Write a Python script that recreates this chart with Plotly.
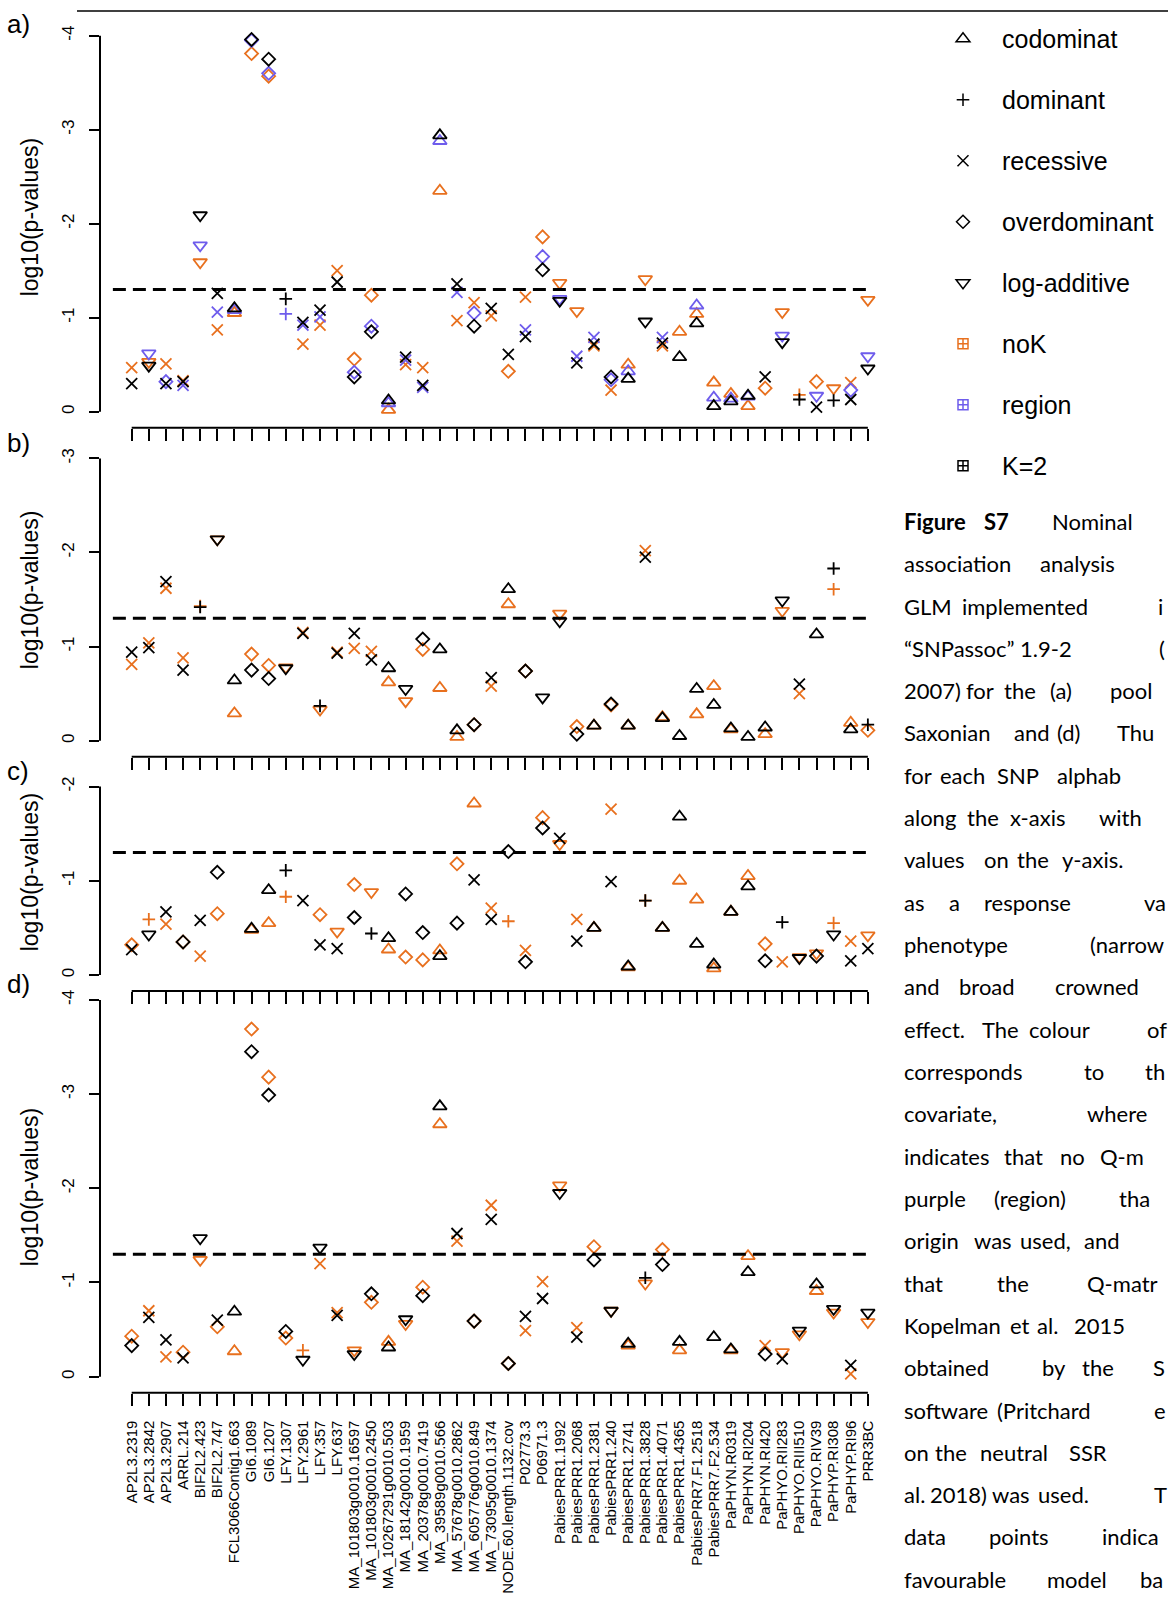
import numpy as np
import plotly.graph_objects as go

# ---------------- data ----------------
SNPS = ["AP2L3.2319", "AP2L3.2842", "AP2L3.2907", "ARRL.214", "BIF2L2.423", "BIF2L2.747",
        "FCL3066Contig1.663", "GI6.1089", "GI6.1207", "LFY.1307", "LFY.2961", "LFY.357",
        "LFY.637", "MA_101803g0010.16597", "MA_101803g0010.2450", "MA_10267291g0010.503",
        "MA_18142g0010.1959", "MA_20378g0010.7419", "MA_39589g0010.566", "MA_57678g0010.2862",
        "MA_605776g0010.849", "MA_73095g0010.1374", "NODE.60.length.1132.cov", "P02773.3",
        "P06971.3", "PabiesPRR1.1992", "PabiesPRR1.2068", "PabiesPRR1.2381", "PabiesPRR1.240",
        "PabiesPRR1.2741", "PabiesPRR1.3828", "PabiesPRR1.4071", "PabiesPRR1.4365",
        "PabiesPRR7.F1.2518", "PabiesPRR7.F2.534", "PaPHYN.R0319", "PaPHYN.RI204",
        "PaPHYN.RI420", "PaPHYO.RII283", "PaPHYO.RIII510", "PaPHYO.RIV39", "PaPHYP.RI308",
        "PaPHYP.RI96", "PRR3BC"]

MODELS = ["co", "dom", "rec", "over", "log"]
MODEL_NAMES = ["codominat", "dominant", "recessive", "overdominant", "log-additive"]
COVARIATES = ["noK", "reg", "K2"]
COVARIATE_NAMES = ["noK", "region", "K=2"]
SIG_P = 0.05

# (SNP number 1-based, model, covariate, log10 p-value)
PANEL_A = [
    (1, "rec", "noK", -0.47), (1, "rec", "K2", -0.30),
    (2, "log", "reg", -0.62), (2, "log", "noK", -0.53), (2, "log", "K2", -0.49),
    (3, "rec", "noK", -0.51), (3, "over", "reg", -0.32), (3, "rec", "K2", -0.30),
    (4, "rec", "noK", -0.33), (4, "rec", "reg", -0.28), (4, "rec", "K2", -0.32),
    (5, "log", "K2", -2.09), (5, "log", "reg", -1.77), (5, "log", "noK", -1.59),
    (6, "rec", "K2", -1.26), (6, "rec", "reg", -1.06), (6, "rec", "noK", -0.87),
    (7, "co", "noK", -1.05), (7, "co", "reg", -1.08), (7, "co", "K2", -1.10),
    (8, "over", "noK", -3.81), (8, "over", "reg", -3.95), (8, "over", "K2", -3.96),
    (9, "over", "K2", -3.75), (9, "over", "reg", -3.60), (9, "over", "noK", -3.57),
    (10, "dom", "K2", -1.20), (10, "dom", "reg", -1.04),
    (11, "rec", "K2", -0.95), (11, "rec", "reg", -0.92), (11, "rec", "noK", -0.72),
    (12, "rec", "K2", -1.08), (12, "rec", "reg", -1.01), (12, "rec", "noK", -0.92),
    (13, "rec", "noK", -1.50), (13, "rec", "K2", -1.38),
    (14, "over", "noK", -0.56), (14, "over", "reg", -0.42), (14, "over", "K2", -0.37),
    (15, "over", "noK", -1.24), (15, "over", "reg", -0.91), (15, "over", "K2", -0.85),
    (16, "co", "K2", -0.12), (16, "co", "reg", -0.09), (16, "co", "noK", -0.02),
    (17, "rec", "K2", -0.58), (17, "rec", "reg", -0.55), (17, "rec", "noK", -0.50),
    (18, "rec", "noK", -0.47), (18, "rec", "K2", -0.28), (18, "rec", "reg", -0.26),
    (19, "co", "K2", -2.94), (19, "co", "reg", -2.88), (19, "co", "noK", -2.35),
    (20, "rec", "K2", -1.36), (20, "rec", "reg", -1.27), (20, "rec", "noK", -0.97),
    (21, "rec", "noK", -1.16), (21, "over", "reg", -1.05), (21, "over", "K2", -0.91),
    (22, "rec", "K2", -1.10), (22, "rec", "noK", -1.02),
    (23, "rec", "K2", -0.61), (23, "over", "noK", -0.43),
    (24, "rec", "noK", -1.22), (24, "rec", "reg", -0.87), (24, "rec", "K2", -0.80),
    (25, "over", "noK", -1.86), (25, "over", "reg", -1.65), (25, "over", "K2", -1.51),
    (26, "log", "noK", -1.37), (26, "log", "reg", -1.20), (26, "log", "K2", -1.18),
    (27, "log", "noK", -1.07), (27, "rec", "reg", -0.59), (27, "rec", "K2", -0.52),
    (28, "rec", "reg", -0.79), (28, "rec", "K2", -0.72), (28, "rec", "noK", -0.70),
    (29, "over", "K2", -0.37), (29, "over", "reg", -0.34), (29, "rec", "noK", -0.23),
    (30, "co", "noK", -0.50), (30, "co", "reg", -0.43), (30, "co", "K2", -0.35),
    (31, "log", "noK", -1.41), (31, "log", "K2", -0.96),
    (32, "rec", "reg", -0.79), (32, "rec", "K2", -0.73), (32, "rec", "noK", -0.70),
    (33, "co", "noK", -0.85), (33, "co", "K2", -0.58),
    (34, "co", "reg", -1.13), (34, "co", "noK", -1.04), (34, "co", "K2", -0.94),
    (35, "co", "noK", -0.31), (35, "co", "reg", -0.15), (35, "co", "K2", -0.06),
    (36, "co", "noK", -0.19), (36, "co", "reg", -0.14), (36, "co", "K2", -0.11),
    (37, "co", "K2", -0.17), (37, "co", "reg", -0.16), (37, "co", "noK", -0.06),
    (38, "rec", "K2", -0.37), (38, "over", "noK", -0.25),
    (39, "log", "noK", -1.06), (39, "log", "reg", -0.81), (39, "log", "K2", -0.74),
    (40, "dom", "noK", -0.18), (40, "dom", "K2", -0.13),
    (41, "over", "noK", -0.32), (41, "log", "reg", -0.17), (41, "rec", "K2", -0.05),
    (42, "log", "noK", -0.25), (42, "dom", "K2", -0.12),
    (43, "rec", "noK", -0.31), (43, "over", "reg", -0.23), (43, "rec", "K2", -0.13),
    (44, "log", "noK", -1.19), (44, "log", "reg", -0.59), (44, "log", "K2", -0.46),
]

PANEL_B = [
    (1, "rec", "K2", -0.94), (1, "rec", "noK", -0.81),
    (2, "rec", "noK", -1.04), (2, "rec", "K2", -0.99),
    (3, "rec", "K2", -1.69), (3, "rec", "noK", -1.62),
    (4, "rec", "noK", -0.88), (4, "rec", "K2", -0.75),
    (5, "dom", "noK", -1.43), (5, "dom", "K2", -1.42),
    (6, "log", "noK", -2.14), (6, "log", "K2", -2.14),
    (7, "co", "K2", -0.64), (7, "co", "noK", -0.29),
    (8, "over", "noK", -0.92), (8, "over", "K2", -0.75),
    (9, "over", "noK", -0.80), (9, "over", "K2", -0.66),
    (10, "log", "noK", -0.78), (10, "log", "K2", -0.77),
    (11, "rec", "noK", -1.15), (11, "rec", "K2", -1.14),
    (12, "log", "noK", -0.33), (12, "dom", "K2", -0.37),
    (13, "rec", "noK", -0.94), (13, "rec", "K2", -0.93),
    (14, "rec", "K2", -1.14), (14, "rec", "noK", -0.98),
    (15, "rec", "noK", -0.95), (15, "rec", "K2", -0.86),
    (16, "co", "K2", -0.77), (16, "co", "noK", -0.62),
    (17, "log", "K2", -0.55), (17, "log", "noK", -0.42),
    (18, "over", "K2", -1.08), (18, "over", "noK", -0.97),
    (19, "co", "K2", -0.97), (19, "co", "noK", -0.56),
    (20, "co", "K2", -0.11), (20, "co", "noK", -0.04),
    (21, "over", "noK", -0.17), (21, "over", "K2", -0.17),
    (22, "rec", "K2", -0.67), (22, "rec", "noK", -0.58),
    (23, "co", "K2", -1.61), (23, "co", "noK", -1.45),
    (24, "over", "noK", -0.74), (24, "over", "K2", -0.74),
    (25, "log", "K2", -0.46),
    (26, "log", "noK", -1.35), (26, "log", "K2", -1.27),
    (27, "over", "noK", -0.15), (27, "over", "K2", -0.07),
    (28, "co", "noK", -0.16), (28, "co", "K2", -0.16),
    (29, "over", "noK", -0.38), (29, "over", "K2", -0.39),
    (30, "co", "noK", -0.16), (30, "co", "K2", -0.16),
    (31, "rec", "noK", -2.02), (31, "rec", "K2", -1.95),
    (32, "co", "noK", -0.25), (32, "co", "K2", -0.24),
    (33, "co", "K2", -0.05),
    (34, "co", "K2", -0.55), (34, "co", "noK", -0.28),
    (35, "co", "noK", -0.58), (35, "co", "K2", -0.38),
    (36, "co", "noK", -0.12), (36, "co", "K2", -0.13),
    (37, "co", "K2", -0.04),
    (38, "co", "noK", -0.07), (38, "co", "K2", -0.14),
    (39, "log", "K2", -1.49), (39, "log", "noK", -1.38),
    (40, "rec", "K2", -0.60), (40, "rec", "noK", -0.50),
    (41, "co", "K2", -1.13),
    (42, "dom", "K2", -1.83), (42, "dom", "noK", -1.61),
    (43, "co", "noK", -0.19), (43, "co", "K2", -0.12),
    (44, "dom", "K2", -0.17), (44, "over", "noK", -0.11),
]

PANEL_C = [
    (1, "over", "noK", -0.32), (1, "rec", "K2", -0.27),
    (2, "dom", "noK", -0.59), (2, "log", "K2", -0.43),
    (3, "rec", "K2", -0.67), (3, "rec", "noK", -0.54),
    (4, "over", "noK", -0.35), (4, "over", "K2", -0.35),
    (5, "rec", "K2", -0.58), (5, "rec", "noK", -0.20),
    (6, "over", "K2", -1.09), (6, "over", "noK", -0.65),
    (8, "co", "noK", -0.48), (8, "co", "K2", -0.49),
    (9, "co", "K2", -0.90), (9, "co", "noK", -0.55),
    (10, "dom", "K2", -1.11), (10, "dom", "noK", -0.83),
    (11, "rec", "K2", -0.79),
    (12, "over", "noK", -0.64), (12, "rec", "K2", -0.32),
    (13, "log", "noK", -0.46), (13, "rec", "K2", -0.28),
    (14, "over", "noK", -0.96), (14, "over", "K2", -0.61),
    (15, "log", "noK", -0.88), (15, "dom", "K2", -0.44),
    (16, "co", "K2", -0.39), (16, "co", "noK", -0.27),
    (17, "over", "K2", -0.86), (17, "over", "noK", -0.19),
    (18, "over", "K2", -0.45), (18, "over", "noK", -0.16),
    (19, "co", "noK", -0.26), (19, "co", "K2", -0.20),
    (20, "over", "noK", -1.18), (20, "over", "K2", -0.55),
    (21, "co", "noK", -1.82), (21, "rec", "K2", -1.01),
    (22, "rec", "noK", -0.71), (22, "rec", "K2", -0.59),
    (23, "over", "K2", -1.31), (23, "dom", "noK", -0.57),
    (24, "rec", "noK", -0.26), (24, "over", "K2", -0.14),
    (25, "over", "noK", -1.67), (25, "over", "K2", -1.56),
    (26, "rec", "K2", -1.45), (26, "log", "noK", -1.39),
    (27, "rec", "noK", -0.59), (27, "rec", "K2", -0.36),
    (28, "co", "noK", -0.50), (28, "co", "K2", -0.50),
    (29, "rec", "noK", -1.76), (29, "rec", "K2", -0.99),
    (30, "co", "noK", -0.08), (30, "co", "K2", -0.09),
    (31, "dom", "noK", -0.79), (31, "dom", "K2", -0.79),
    (32, "co", "noK", -0.50), (32, "co", "K2", -0.50),
    (33, "co", "K2", -1.68), (33, "co", "noK", -1.00),
    (34, "co", "noK", -0.80), (34, "co", "K2", -0.33),
    (35, "co", "K2", -0.11), (35, "co", "noK", -0.07),
    (36, "co", "noK", -0.67), (36, "co", "K2", -0.67),
    (37, "co", "noK", -1.05), (37, "co", "K2", -0.94),
    (38, "over", "noK", -0.33), (38, "over", "K2", -0.15),
    (39, "dom", "K2", -0.56), (39, "rec", "noK", -0.14),
    (40, "log", "noK", -0.19), (40, "log", "K2", -0.18),
    (41, "log", "noK", -0.23), (41, "over", "K2", -0.20),
    (42, "dom", "noK", -0.55), (42, "log", "K2", -0.43),
    (43, "rec", "noK", -0.36), (43, "rec", "K2", -0.15),
    (44, "log", "noK", -0.42), (44, "rec", "K2", -0.28),
]

PANEL_D = [
    (1, "over", "noK", -0.43), (1, "over", "K2", -0.33),
    (2, "rec", "noK", -0.70), (2, "rec", "K2", -0.63),
    (3, "rec", "K2", -0.39), (3, "rec", "noK", -0.21),
    (4, "over", "noK", -0.26), (4, "rec", "K2", -0.20),
    (5, "log", "K2", -1.47), (5, "log", "noK", -1.24),
    (6, "rec", "K2", -0.60), (6, "over", "noK", -0.53),
    (7, "co", "K2", -0.69), (7, "co", "noK", -0.27),
    (8, "over", "noK", -3.69), (8, "over", "K2", -3.45),
    (9, "over", "noK", -3.18), (9, "over", "K2", -2.99),
    (10, "over", "K2", -0.48), (10, "over", "noK", -0.41),
    (11, "dom", "noK", -0.28), (11, "log", "K2", -0.18),
    (12, "log", "K2", -1.37), (12, "rec", "noK", -1.20),
    (13, "rec", "noK", -0.68), (13, "rec", "K2", -0.65),
    (14, "log", "noK", -0.28), (14, "log", "K2", -0.24),
    (15, "over", "K2", -0.88), (15, "over", "noK", -0.79),
    (16, "co", "noK", -0.37), (16, "co", "K2", -0.31),
    (17, "log", "K2", -0.61), (17, "log", "noK", -0.56),
    (18, "over", "noK", -0.95), (18, "over", "K2", -0.86),
    (19, "co", "K2", -2.87), (19, "co", "noK", -2.68),
    (20, "rec", "K2", -1.52), (20, "rec", "noK", -1.44),
    (21, "over", "noK", -0.59), (21, "over", "K2", -0.59),
    (22, "rec", "noK", -1.82), (22, "rec", "K2", -1.67),
    (23, "over", "noK", -0.14), (23, "over", "K2", -0.14),
    (24, "rec", "K2", -0.64), (24, "rec", "noK", -0.49),
    (25, "rec", "noK", -1.01), (25, "rec", "K2", -0.83),
    (26, "log", "noK", -2.03), (26, "log", "K2", -1.95),
    (27, "rec", "noK", -0.52), (27, "rec", "K2", -0.42),
    (28, "over", "noK", -1.38), (28, "over", "K2", -1.24),
    (29, "log", "noK", -0.70), (29, "log", "K2", -0.70),
    (30, "co", "noK", -0.33), (30, "co", "K2", -0.35),
    (31, "log", "noK", -0.99), (31, "dom", "K2", -1.05),
    (32, "over", "noK", -1.35), (32, "over", "K2", -1.19),
    (33, "co", "K2", -0.37), (33, "co", "noK", -0.28),
    (35, "co", "K2", -0.42),
    (36, "co", "noK", -0.28), (36, "co", "K2", -0.29),
    (37, "co", "noK", -1.28), (37, "co", "K2", -1.11),
    (38, "rec", "noK", -0.33), (38, "over", "K2", -0.24),
    (39, "log", "noK", -0.26), (39, "rec", "K2", -0.19),
    (40, "log", "noK", -0.45), (40, "log", "K2", -0.49),
    (41, "co", "noK", -0.91), (41, "co", "K2", -0.98),
    (42, "log", "noK", -0.68), (42, "log", "K2", -0.72),
    (43, "rec", "K2", -0.12), (43, "rec", "noK", -0.03),
    (44, "log", "K2", -0.68), (44, "log", "noK", -0.58),
]

PANEL_LABELS = ["a)", "b)", "c)", "d)"]
Y_TICKS = [[0, -1, -2, -3, -4], [0, -1, -2, -3], [0, -1, -2], [0, -1, -2, -3, -4]]
Y_TITLE = "log10(p-values)"

CAPTION_LINES = [
    [("Figure", True), ("S7", True), ("Nominal", False)],
    [("association", False), ("analysis", False)],
    [("GLM", False), ("implemented", False), ("i", False)],
    [("\u201cSNPassoc\u201d", False), ("1.9-2", False), ("(", False)],
    [("2007)", False), ("for", False), ("the", False), ("(a)", False), ("pool", False)],
    [("Saxonian", False), ("and", False), ("(d)", False), ("Thu", False)],
    [("for", False), ("each", False), ("SNP", False), ("alphab", False)],
    [("along", False), ("the", False), ("x-axis", False), ("with", False)],
    [("values", False), ("on", False), ("the", False), ("y-axis.", False)],
    [("as", False), ("a", False), ("response", False), ("va", False)],
    [("phenotype", False), ("(narrow", False)],
    [("and", False), ("broad", False), ("crowned", False)],
    [("effect.", False), ("The", False), ("colour", False), ("of", False)],
    [("corresponds", False), ("to", False), ("th", False)],
    [("covariate,", False), ("where", False)],
    [("indicates", False), ("that", False), ("no", False), ("Q-m", False)],
    [("purple", False), ("(region)", False), ("tha", False)],
    [("origin", False), ("was", False), ("used,", False), ("and", False)],
    [("that", False), ("the", False), ("Q-matr", False)],
    [("Kopelman", False), ("et", False), ("al.", False), ("2015", False)],
    [("obtained", False), ("by", False), ("the", False), ("S", False)],
    [("software", False), ("(Pritchard", False), ("e", False)],
    [("on", False), ("the", False), ("neutral", False), ("SSR", False)],
    [("al.", False), ("2018)", False), ("was", False), ("used.", False), ("T", False)],
    [("data", False), ("points", False), ("indica", False)],
    [("favourable", False), ("model", False), ("ba", False)],
]

# ---------------- layout / style ----------------
W, H = 1168, 1600
ORANGE = "#E8701E"
PURPLE = "#6E5CEC"
BLACK = "#000000"
COV_COLOR = {"noK": ORANGE, "reg": PURPLE, "K2": BLACK}
SYMBOL = {"co": "triangle-up-open", "dom": "cross-thin-open", "rec": "x-thin-open",
          "over": "diamond-open", "log": "triangle-down-open"}
MSIZE = {"co": 12, "dom": 9, "rec": 11, "over": 10, "log": 12}
MLW = 1.8
FONT = "Liberation Sans, Arial, sans-serif"
CAP_FONT = "Lato, Open Sans, sans-serif"

# pixel geometry of panels: value-0 row, px per unit, x-axis line row, top of region
GEOM = [
    dict(zero=408, unit=94.3, axis=424, top=20, title=213, label=19),
    dict(zero=738, unit=94.4, axis=754, top=440, title=587, label=439),
    dict(zero=973, unit=94.5, axis=989, top=770, title=870, label=768),
    dict(zero=1376, unit=94.5, axis=1392, top=993, title=1186, label=982),
]
X_LEFT, X_RIGHT = 100, 897
CAT0_PX, CAT_STEP = 131.7, 17.12
x_range = [(X_LEFT - CAT0_PX) / CAT_STEP, (X_RIGHT - CAT0_PX) / CAT_STEP]

fig = go.Figure()
panels = [PANEL_A, PANEL_B, PANEL_C, PANEL_D]
shapes = []
annotations = []
sig_line = np.log10(SIG_P)

for n, (data, g) in enumerate(zip(panels, GEOM), start=1):
    xa = "x" if n == 1 else f"x{n}"
    ya = "y" if n == 1 else f"y{n}"
    for cov in COVARIATES:
        for m in MODELS:
            pts = [r for r in data if r[1] == m and r[2] == cov]
            if not pts:
                continue
            fig.add_trace(go.Scatter(
                x=[SNPS[r[0] - 1] for r in pts], y=[r[3] for r in pts],
                xaxis=xa, yaxis=ya, mode="markers", showlegend=False, cliponaxis=False,
                marker=dict(symbol=SYMBOL[m], size=MSIZE[m], color=COV_COLOR[cov],
                            line=dict(color=COV_COLOR[cov], width=MLW)),
                hoverinfo="x+y"))
    ticks = Y_TICKS[n - 1]
    xkey = "xaxis" if n == 1 else f"xaxis{n}"
    ykey = "yaxis" if n == 1 else f"yaxis{n}"
    fig.layout[xkey] = dict(
        domain=[X_LEFT / W, X_RIGHT / W], range=x_range, type="category",
        categoryorder="array", categoryarray=SNPS, tickmode="array", tickvals=SNPS,
        ticktext=SNPS, ticks="outside", ticklen=12, tickwidth=1.5, tickcolor="black",
        showline=False, showgrid=False, zeroline=False, showticklabels=(n == 4),
        tickangle=-90, tickfont=dict(family=FONT, size=15, color="black"),
        anchor=ya, ticklabelstandoff=9, fixedrange=True)
    fig.layout[ykey] = dict(
        domain=[1 - g["axis"] / H, 1 - g["top"] / H],
        range=[(g["axis"] - g["zero"]) / g["unit"], -(g["zero"] - g["top"]) / g["unit"]],
        tickmode="array", tickvals=ticks, ticktext=[str(t) for t in ticks],
        ticks="outside", ticklen=10, tickwidth=1.5, tickcolor="black",
        showline=False, showgrid=False, zeroline=False, tickangle=-90,
        tickfont=dict(family=FONT, size=17, color="black"), anchor=xa,
        ticklabelstandoff=8, fixedrange=True)
    # R-style axis lines spanning only the tick range
    shapes.append(dict(type="line", xref=f"{xa} domain", x0=0, x1=0, yref=ya,
                       y0=ticks[0], y1=ticks[-1], line=dict(color="black", width=2)))
    shapes.append(dict(type="line", xref=xa, x0=0, x1=len(SNPS) - 1, yref=f"{ya} domain",
                       y0=0, y1=0, line=dict(color="black", width=2)))
    shapes.append(dict(type="line", xref=xa, x0=-1.1, x1=len(SNPS) - 1 + 0.07, yref=ya,
                       y0=sig_line, y1=sig_line,
                       line=dict(color="black", width=3, dash="13px,7px")))
    annotations.append(dict(text=Y_TITLE, x=30 / W, y=1 - g["title"] / H, xref="paper",
                            yref="paper", textangle=-90, showarrow=False,
                            xanchor="center", yanchor="middle",
                            font=dict(family=FONT, size=23, color="black")))
    annotations.append(dict(text=PANEL_LABELS[n - 1], x=5 / W, y=1 - g["label"] / H,
                            xref="paper", yref="paper", showarrow=False,
                            xanchor="left", yanchor="middle",
                            font=dict(family=FONT, size=26, color="black")))

# top border line
shapes.append(dict(type="line", xref="paper", yref="paper", x0=77 / W, x1=1,
                   y0=1 - 6 / H, y1=1 - 6 / H, line=dict(color="black", width=1.5)))

# legend entries
for m, name in zip(MODELS, MODEL_NAMES):
    fig.add_trace(go.Scatter(x=[None], y=[None], mode="markers", name=name, legendgroup=name,
                             marker=dict(symbol=SYMBOL[m], size=MSIZE[m], color=BLACK,
                                         line=dict(color=BLACK, width=1.5))))
for c, name in zip(COVARIATES, COVARIATE_NAMES):
    fig.add_trace(go.Scatter(x=[None], y=[None], mode="markers", name=name, legendgroup=name,
                             marker=dict(symbol="square-cross-open", size=10,
                                         color=COV_COLOR[c],
                                         line=dict(color=COV_COLOR[c], width=1.5))))

# caption: word start positions (px) approximate the justified text of the source
CAPTION_X = [
    [902, 982, 1050], [902, 1038], [902, 960, 1156], [902, 1018, 1157],
    [902, 964, 1002, 1048, 1108], [902, 1012, 1055, 1115], [902, 938, 995, 1055],
    [902, 965, 1008, 1097], [902, 982, 1015, 1060], [902, 947, 982, 1142],
    [902, 1088], [902, 957, 1053], [902, 980, 1027, 1145], [902, 1082, 1143],
    [902, 1085], [902, 1002, 1058, 1098], [902, 992, 1117], [902, 972, 1018, 1082],
    [902, 995, 1085], [902, 1008, 1035, 1072], [902, 1040, 1080, 1151],
    [902, 995, 1152], [902, 933, 978, 1067], [902, 928, 990, 1036, 1152],
    [902, 987, 1100], [902, 1045, 1138],
]
for i, (words, xs) in enumerate(zip(CAPTION_LINES, CAPTION_X)):
    ypx = 518 + i * 42.45
    for (w, bold), xpx in zip(words, xs):
        annotations.append(dict(text=f"<b>{w}</b>" if bold else w, x=xpx / W, y=1 - ypx / H,
                                xref="paper", yref="paper", showarrow=False,
                                xanchor="left", yanchor="middle",
                                font=dict(family=CAP_FONT, size=22, color="black")))

fig.update_layout(
    width=W, height=H, margin=dict(l=0, r=0, t=0, b=0),
    paper_bgcolor="white", plot_bgcolor="white",
    shapes=shapes, annotations=annotations,
    showlegend=True,
    legend=dict(x=924 / W, y=1 - 11 / H, xanchor="left", yanchor="top",
                font=dict(family=FONT, size=25, color="black"),
                traceorder="grouped", tracegroupgap=25.5, itemwidth=68,
                itemsizing="trace", bgcolor="rgba(0,0,0,0)", borderwidth=0),
)

fig.write_html("out.html", config={"displayModeBar": False},
               post_script="document.body.style.margin='0';")
